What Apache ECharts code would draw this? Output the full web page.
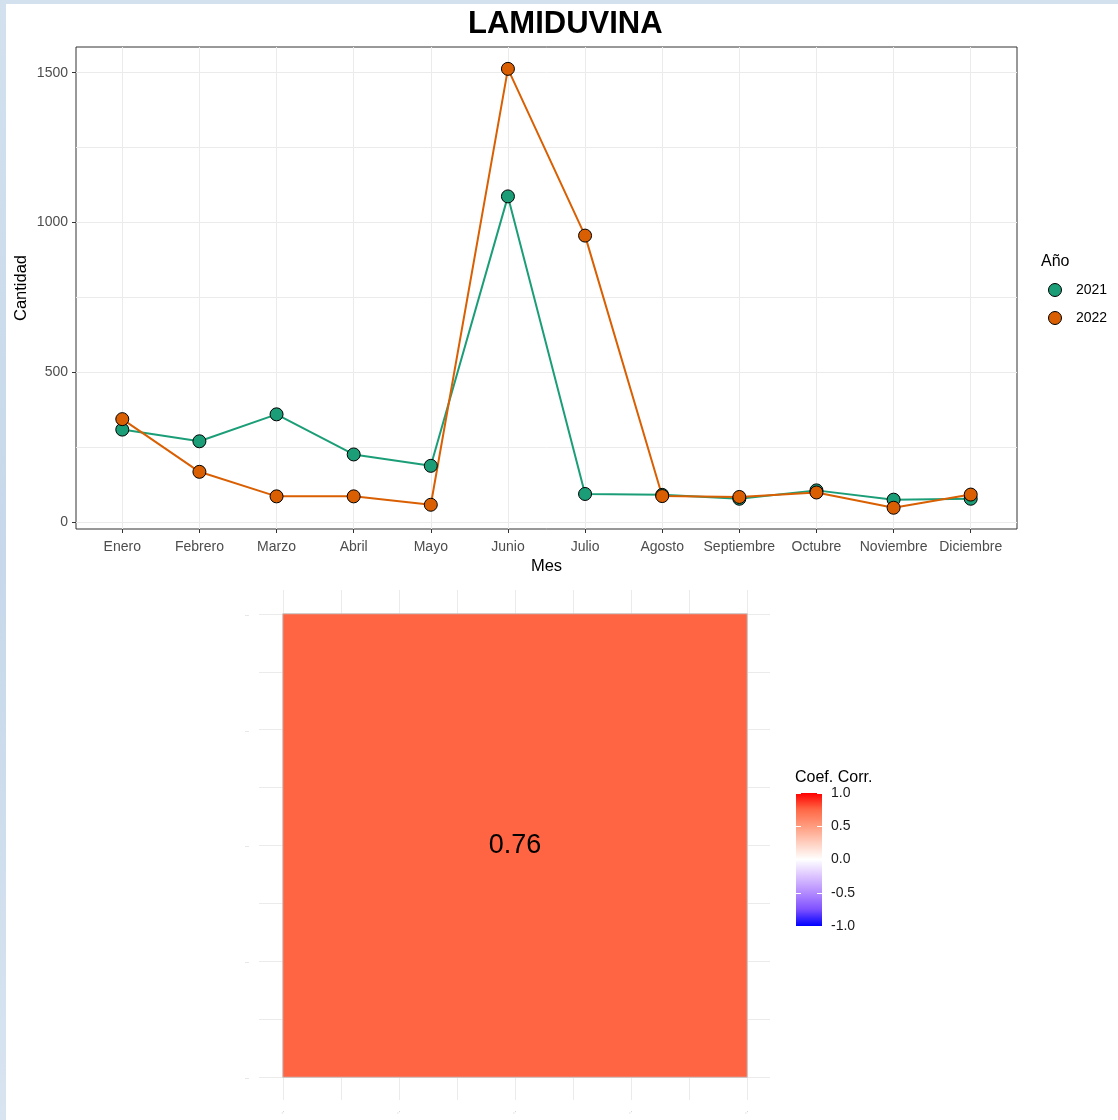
<!DOCTYPE html>
<html>
<head>
<meta charset="utf-8">
<script src="https://cdn.jsdelivr.net/npm/echarts@6/dist/echarts.min.js"></script>
<style>
  html, body { margin: 0; padding: 0; width: 1118px; height: 1120px; overflow: hidden;
    background: linear-gradient(180deg, #d3e1ee 0%, #c6d8ea 50%, #d8e4f0 100%); }
  #paper { position: absolute; left: 6px; top: 4px; right: 0; bottom: 0; background: #ffffff; }
  #chart { position: absolute; left: 0; top: 0; width: 1118px; height: 1120px; }
</style>
</head>
<body>
<div id="paper"></div>
<div id="chart"></div>
<script>
// ---- data ----
const months = ['Enero', 'Febrero', 'Marzo', 'Abril', 'Mayo', 'Junio', 'Julio', 'Agosto', 'Septiembre', 'Octubre', 'Noviembre', 'Diciembre'];
const years = ['2021', '2022'];
const cantidad2021 = [308, 269, 359, 225, 187, 1087, 93, 90, 77, 105, 74, 77];
const cantidad2022 = [343, 167, 85, 85, 57, 1513, 956, 86, 83, 98, 47, 91];
const yMajorTicks = [0, 500, 1000, 1500];
const yMinorTicks = [250, 750, 1250];
const corrValue = 0.76;
const heatGridTicks = [0, 1, 2, 3, 4, 5, 6, 7, 8];
const heatLabelTicks = [0, 2, 4, 6, 8];
const heatTickText = ['..', '..', '..', '..', '..'];

const FONT = "'Liberation Sans', Arial, sans-serif";
const green = '#1B9E77';
const orange = '#D95F02';
const gridGrey = '#ebebeb';
const corrColors = ['#0000FF', '#7E51FF', '#B38BFF', '#DCC4FF', '#FFFFFF', '#FFCFBF', '#FF9C7F', '#FF6846', '#FF0000'];

const chart = echarts.init(document.getElementById('chart'), null, { renderer: 'canvas' });
const monthIdx = months.map((_, i) => i);

function lineSeries(name, values, color) {
  return {
    name: name, type: 'line', xAxisIndex: 0, yAxisIndex: 0,
    data: values.map((v, i) => [i, v]),
    symbol: 'circle', symbolSize: 13,
    itemStyle: { color: color, borderColor: '#000', borderWidth: 1 },
    lineStyle: { color: color, width: 2 },
    emphasis: { disabled: true }, animation: false
  };
}

const gradient = new echarts.graphic.LinearGradient(0, 0, 0, 1,
  corrColors.slice().reverse().map((c, i) => ({ offset: i / (corrColors.length - 1), color: c })));

const noBounds = { outerBoundsMode: 'none', containLabel: false };

const option = {
  animation: false,
  textStyle: { fontFamily: FONT },
  title: [
    { text: 'LAMIDUVINA', left: 463, top: 4,
      textStyle: { fontSize: 31, fontWeight: 'bold', color: '#000', fontFamily: FONT } },
    { text: 'Año', left: 1036, top: 249,
      textStyle: { fontSize: 16, fontWeight: 'normal', color: '#000', fontFamily: FONT } },
    { text: 'Coef. Corr.', left: 790, top: 765,
      textStyle: { fontSize: 16, fontWeight: 'normal', color: '#000', fontFamily: FONT } }
  ],
  legend: {
    data: years, orient: 'vertical', left: 1043, top: 278,
    icon: 'circle', itemWidth: 32, itemHeight: 13, itemGap: 14,
    itemStyle: { borderColor: '#000', borderWidth: 1 },
    textStyle: { fontSize: 14, color: '#000', fontFamily: FONT },
    selectedMode: false
  },
  grid: [
    Object.assign({ left: 76, top: 47, width: 941, height: 482, show: true, borderColor: '#333', borderWidth: 1, backgroundColor: 'transparent' }, noBounds),
    Object.assign({ left: 259, top: 590, width: 511, height: 510, show: false }, noBounds),
    Object.assign({ left: 283, top: 614, width: 464, height: 463, show: false }, noBounds),
    Object.assign({ left: 796, top: 793, width: 26, height: 133, show: true, borderWidth: 0, backgroundColor: gradient }, noBounds)
  ],
  visualMap: {
    show: false, seriesIndex: 3, dimension: 2, min: -1, max: 1,
    inRange: { color: corrColors }
  },
  xAxis: [
    { gridIndex: 0, type: 'value', min: -0.6, max: 11.6,
      name: 'Mes', nameLocation: 'middle', nameGap: 29,
      nameTextStyle: { fontSize: 16.5, color: '#000', fontFamily: FONT },
      axisLine: { show: false, onZero: false },
      axisTick: { show: true, length: 4, customValues: monthIdx, lineStyle: { color: '#333' } },
      axisLabel: { customValues: monthIdx, formatter: v => months[v], fontSize: 14, color: '#4d4d4d', margin: 11 },
      splitLine: { show: true, lineStyle: { color: gridGrey, width: 1 } }
    },
    { gridIndex: 1, type: 'value', min: -0.414, max: 8.397,
      axisLine: { show: false, onZero: false },
      axisTick: { show: false, customValues: heatGridTicks },
      axisLabel: { customValues: heatLabelTicks, formatter: v => heatTickText[heatLabelTicks.indexOf(v)], fontSize: 7, color: '#aaaaaa', rotate: 45, margin: 10 },
      splitLine: { show: true, lineStyle: { color: gridGrey, width: 1 } }
    },
    { gridIndex: 2, type: 'category', data: ['c'], show: false },
    { gridIndex: 3, type: 'value', min: 0, max: 1, show: false }
  ],
  yAxis: [
    { gridIndex: 0, type: 'value', min: -24, max: 1586,
      name: 'Cantidad', nameLocation: 'middle', nameGap: 46, nameRotate: 90, nameMoveOverlap: false,
      nameTextStyle: { fontSize: 16.5, color: '#000', fontFamily: FONT },
      axisLine: { show: false, onZero: false },
      axisTick: { show: true, length: 4, customValues: yMajorTicks, lineStyle: { color: '#333' } },
      axisLabel: { customValues: yMajorTicks, formatter: v => String(v), fontSize: 14, color: '#4d4d4d', margin: 8 },
      splitLine: { show: true, lineStyle: { color: gridGrey, width: 1 } }
    },
    { gridIndex: 0, type: 'value', min: -24, max: 1586,
      axisLine: { show: false, onZero: false },
      axisTick: { show: false, customValues: yMinorTicks },
      axisLabel: { show: false, customValues: yMinorTicks },
      splitLine: { show: true, lineStyle: { color: gridGrey, width: 1 } }
    },
    { gridIndex: 1, type: 'value', min: -0.397, max: 8.414,
      axisLine: { show: false, onZero: false },
      axisTick: { show: false, customValues: heatGridTicks },
      axisLabel: { customValues: heatLabelTicks, formatter: v => heatTickText[heatLabelTicks.indexOf(v)], fontSize: 7, color: '#aaaaaa', margin: 10 },
      splitLine: { show: true, lineStyle: { color: gridGrey, width: 1 } }
    },
    { gridIndex: 2, type: 'category', data: ['r'], show: false },
    { gridIndex: 3, type: 'value', min: -1, max: 1, interval: 0.5, position: 'right',
      axisLine: { show: false, onZero: false },
      axisTick: { show: true, inside: true, length: 5, lineStyle: { color: '#ffffff', width: 1 } },
      axisLabel: { formatter: v => v.toFixed(1), fontSize: 14, color: '#1a1a1a', margin: 9 },
      splitLine: { show: false }
    },
    { gridIndex: 3, type: 'value', min: -1, max: 1, interval: 0.5, position: 'left',
      axisLine: { show: false, onZero: false },
      axisTick: { show: true, inside: true, length: 5, lineStyle: { color: '#ffffff', width: 1 } },
      axisLabel: { show: false },
      splitLine: { show: false }
    }
  ],
  series: [
    lineSeries(years[0], cantidad2021, green),
    lineSeries(years[1], cantidad2022, orange),
    { type: 'scatter', xAxisIndex: 3, yAxisIndex: 4, data: [], silent: true },
    { type: 'heatmap', xAxisIndex: 2, yAxisIndex: 3,
      data: [[0, 0, corrValue]],
      itemStyle: { borderColor: '#c4c4c4', borderWidth: 1 },
      label: { show: true, formatter: p => p.value[2].toFixed(2), fontSize: 27, color: '#000', fontFamily: FONT },
      emphasis: { disabled: true }
    }
  ]
};
chart.setOption(option);
</script>
</body>
</html>
